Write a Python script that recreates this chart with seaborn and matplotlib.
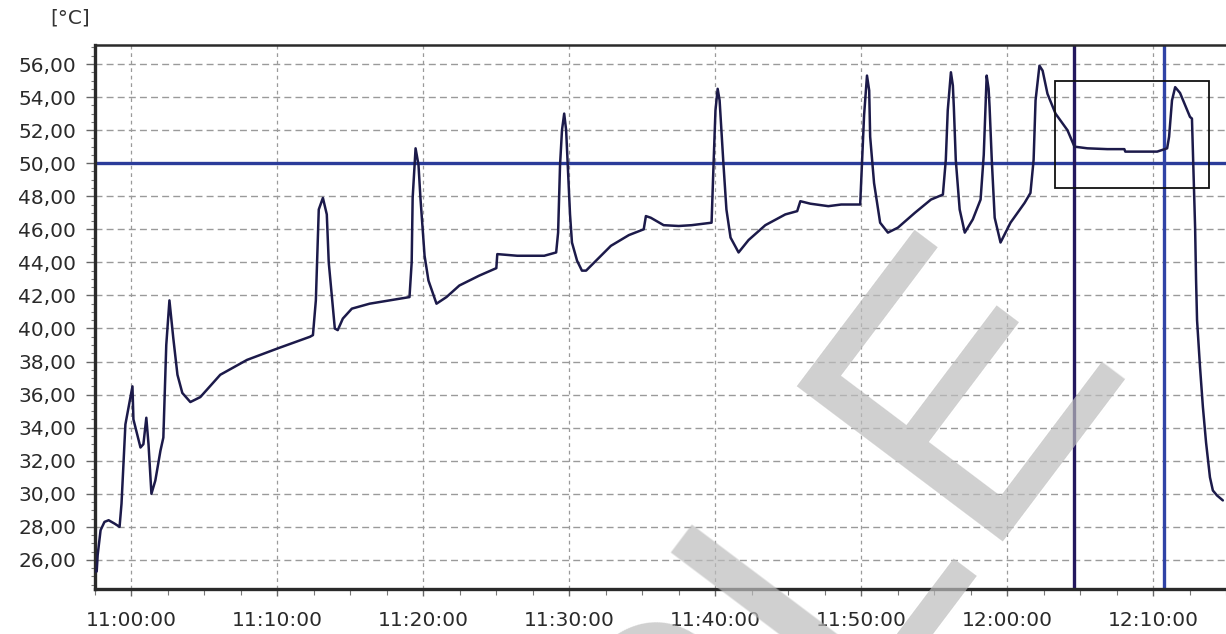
import pandas as pd
import matplotlib
matplotlib.use("Agg")
import matplotlib.pyplot as plt
import matplotlib.dates as mdates
from matplotlib.patches import Rectangle
from matplotlib.ticker import FuncFormatter, MultipleLocator
import seaborn as sns

# Temperature log
times = ["10:57:32", "10:57:37", "10:57:41", "10:57:53", "10:58:09", "10:58:26", "10:58:50",
         "10:59:11", "10:59:19", "10:59:35", "11:00:04", "11:00:08", "11:00:37", "11:00:49",
         "11:01:01", "11:01:10", "11:01:22", "11:01:38", "11:01:59", "11:02:11", "11:02:23",
         "11:02:36", "11:02:52", "11:03:09", "11:03:29", "11:04:02", "11:04:43", "11:06:05",
         "11:07:55", "11:10:02", "11:12:14", "11:12:26", "11:12:38", "11:12:50", "11:13:07",
         "11:13:23", "11:13:31", "11:13:56", "11:14:08", "11:14:29", "11:15:06", "11:16:19",
         "11:17:41", "11:19:03", "11:19:12", "11:19:16", "11:19:28", "11:19:40", "11:19:48",
         "11:20:05", "11:20:21", "11:20:54", "11:21:35", "11:22:28", "11:23:50", "11:25:00",
         "11:25:04", "11:26:26", "11:28:17", "11:29:06", "11:29:14", "11:29:22", "11:29:30",
         "11:29:39", "11:29:47", "11:30:03", "11:30:11", "11:30:32", "11:30:52", "11:31:09",
         "11:31:50", "11:32:51", "11:34:05", "11:35:06", "11:35:15", "11:35:35", "11:36:28",
         "11:37:30", "11:38:23", "11:39:45", "11:39:53", "11:40:01", "11:40:10", "11:40:18",
         "11:40:34", "11:40:46", "11:41:03", "11:41:36", "11:42:17", "11:43:26", "11:44:48",
         "11:45:37", "11:45:50", "11:46:31", "11:47:45", "11:48:38", "11:49:56", "11:50:04",
         "11:50:12", "11:50:24", "11:50:33", "11:50:37", "11:50:53", "11:51:18", "11:51:50",
         "11:52:31", "11:53:41", "11:54:47", "11:55:36", "11:55:48", "11:55:56", "11:56:09",
         "11:56:17", "11:56:21", "11:56:29", "11:56:45", "11:57:06", "11:57:39", "11:58:11",
         "11:58:24", "11:58:36", "11:58:44", "11:58:48", "11:58:57", "11:59:09", "11:59:33",
         "12:00:14", "12:01:12", "12:01:36", "12:01:49", "12:01:57", "12:02:13", "12:02:26",
         "12:02:46", "12:03:19", "12:04:08", "12:04:37", "12:05:30", "12:06:52", "12:08:02",
         "12:08:06", "12:10:17", "12:10:58", "12:11:06", "12:11:18", "12:11:31", "12:11:51",
         "12:12:32", "12:12:40", "12:12:53", "12:12:57", "12:13:01", "12:13:13", "12:13:25",
         "12:13:38", "12:13:54", "12:14:06", "12:14:23", "12:14:47"]
temps = [25.3, 25.3, 26.3, 27.8, 28.3, 28.4, 28.2,
         28.0, 29.4, 34.2, 36.5, 34.5, 32.8, 33.0,
         34.6, 33.0, 30.0, 30.8, 32.6, 33.4, 39.0,
         41.7, 39.4, 37.2, 36.1, 35.55, 35.85, 37.2,
         38.1, 38.8, 39.5, 39.6, 41.7, 47.2, 47.9,
         46.9, 44.0, 40.0, 39.9, 40.6, 41.2, 41.5,
         41.7, 41.9, 44.0, 47.9, 50.9, 49.9, 47.9,
         44.4, 42.9, 41.5, 41.9, 42.6, 43.2, 43.65,
         44.5, 44.4, 44.4, 44.6, 45.8, 49.9, 52.0,
         53.0, 52.0, 46.9, 45.2, 44.1, 43.5, 43.5,
         44.1, 45.0, 45.65, 46.0, 46.8, 46.7, 46.25,
         46.2, 46.25, 46.4, 49.9, 53.2, 54.5, 53.8,
         49.9, 47.2, 45.5, 44.6, 45.35, 46.25, 46.9,
         47.1, 47.7, 47.55, 47.4, 47.5, 47.5, 50.2,
         52.9, 55.3, 54.4, 51.6, 48.8, 46.4, 45.8,
         46.1, 47.0, 47.8, 48.1, 50.2, 53.2, 55.5,
         54.7, 53.4, 50.2, 47.2, 45.8, 46.6, 47.8,
         50.5, 55.3, 54.5, 53.4, 50.2, 46.7, 45.2,
         46.4, 47.6, 48.2, 50.2, 53.8, 55.9, 55.6,
         54.2, 53.0, 52.0, 51.0, 50.9, 50.85, 50.85,
         50.7, 50.7, 50.9, 51.6, 53.8, 54.6, 54.25,
         52.8, 52.7, 46.1, 42.9, 40.5, 37.7, 35.25,
         33.1, 31.0, 30.2, 29.9, 29.6]

limit_value = 50.0
cursor_times = ["12:04:37", "12:10:46"]
zoom_box_times = ["12:03:15", "12:13:50"]
zoom_box_temps = [48.5, 54.97]
x_range = ["10:57:32", "12:14:47"]
y_range = [24.24, 57.15]

day = "2020-01-01 "
df = pd.DataFrame({"time": pd.to_datetime([day + t for t in times]), "temp": temps})

sns.set_style("white")
plt.rcParams["font.family"] = ["DejaVu Sans"]

fig = plt.figure(figsize=(12.26, 6.34), dpi=100)
ax = fig.add_axes([95 / 1226, 45 / 634, 1 - 95 / 1226, 544 / 634])

ax.axhline(limit_value, color="#2b3c9a", linewidth=2.4, zorder=2)
ax.axvline(pd.Timestamp(day + cursor_times[0]), color="#24185e", linewidth=2.4, zorder=2)
ax.axvline(pd.Timestamp(day + cursor_times[1]), color="#3043a6", linewidth=2.4, zorder=2)

sns.lineplot(data=df, x="time", y="temp", ax=ax, color="#1c1a4a", linewidth=1.8, zorder=3)

x0 = mdates.date2num(pd.Timestamp(day + zoom_box_times[0]))
x1 = mdates.date2num(pd.Timestamp(day + zoom_box_times[1]))
ax.add_patch(Rectangle((x0, zoom_box_temps[0]), x1 - x0, zoom_box_temps[1] - zoom_box_temps[0],
                       fill=False, edgecolor="#111111", linewidth=1.3, zorder=4))

ax.set_xlim(pd.Timestamp(day + x_range[0]), pd.Timestamp(day + x_range[1]))
ax.set_ylim(y_range)

ax.xaxis.set_major_locator(mdates.MinuteLocator(byminute=range(0, 60, 10)))
ax.xaxis.set_major_formatter(mdates.DateFormatter("%H:%M:%S"))
ax.yaxis.set_major_locator(MultipleLocator(2))
ax.yaxis.set_minor_locator(MultipleLocator(0.5))
ax.yaxis.set_major_formatter(FuncFormatter(lambda v, p: f"{v:.2f}".replace(".", ",")))

# minor x ticks every 2.5 minutes
minor_ticks = pd.date_range(day + "10:57:30", day + "12:15:00", freq="150s")
ax.set_xticks(minor_ticks, minor=True)

ax.grid(True, which="major", axis="y", color="#9a9a9a", linestyle=(0, (5, 3)), linewidth=1.0)
ax.grid(True, which="major", axis="x", color="#9a9a9a", linestyle=(0, (3, 3)), linewidth=0.9)

ax.tick_params(axis="both", which="major", labelsize=14.5, labelcolor="#2a2a2a", color="#666666",
               direction="out")
ax.tick_params(axis="y", which="major", length=6.5, width=1, pad=7, left=True)
ax.tick_params(axis="x", which="major", length=5, width=1, pad=11, bottom=True)
ax.tick_params(axis="y", which="minor", length=3, width=0.8, color="#777777", left=True)
ax.tick_params(axis="x", which="minor", length=4, width=0.8, color="#777777", bottom=True)

for side in ["left", "bottom"]:
    ax.spines[side].set_color("#2a2a2a")
    ax.spines[side].set_linewidth(2.4)
ax.spines["top"].set_color("#2a2a2a")
ax.spines["top"].set_linewidth(1.8)
ax.spines["right"].set_visible(False)

ax.set_xlabel("")
ax.set_ylabel("")

fig.text(50 / 1226, 1 - 18 / 634, "[°C]", fontsize=14.5, color="#333333", ha="left", va="center")

# watermark
fig.text(0.485, -0.42, "SAMPLE", rotation=53, rotation_mode="anchor", ha="center", va="center",
         fontsize=270, family="Liberation Sans", color="#bcbcbc", alpha=0.7, zorder=10)

fig.savefig("out.png", dpi=100)
